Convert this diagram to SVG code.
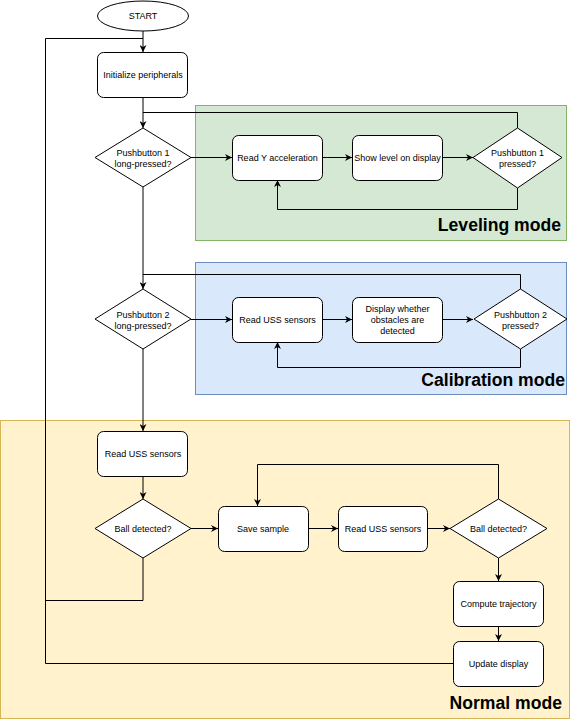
<svg xmlns="http://www.w3.org/2000/svg" width="570" height="720" viewBox="0 0 570 720">
<style>
.n{fill:#fff;stroke:#000;stroke-width:1}
.t{font-family:"Liberation Sans",Arial,sans-serif;font-size:9px;fill:#000;text-anchor:middle}
.h{font-family:"Liberation Sans",Arial,sans-serif;font-size:17.6px;font-weight:bold;fill:#000;text-anchor:end}
.c{fill:none;stroke:#000;stroke-width:1}
</style>
<defs>
<marker id="arr" viewBox="0 0 10 10" refX="10" refY="5" markerWidth="7" markerHeight="7" markerUnits="userSpaceOnUse" orient="auto">
<path d="M0,0 L10,5 L0,10 L3,5 z" fill="#000"/>
</marker>
</defs>
<rect width="570" height="720" fill="#fff"/>
<g id="groups">
<rect id="leveling" x="195.5" y="105.5" width="371" height="135" fill="#d5e8d4" stroke="#82b366"/>
<rect id="calibration" x="195.5" y="262.5" width="371" height="132" fill="#dae8fc" stroke="#6c8ebf"/>
<rect id="normal" x="0.5" y="420.5" width="569" height="298" fill="#fff2cc" stroke="#d6b656"/>
<text class="h" x="561" y="230.5">Leveling mode</text>
<text class="h" x="565" y="385.5">Calibration mode</text>
<text class="h" x="562" y="709">Normal mode</text>
</g>
<g id="connectors">
<path class="c" d="M143,31 V52" marker-end="url(#arr)"/>
<path class="c" d="M143,98 V128" marker-end="url(#arr)"/>
<path class="c" d="M191,157.5 H232" marker-end="url(#arr)"/>
<path class="c" d="M323,157.5 H352" marker-end="url(#arr)"/>
<path class="c" d="M442,157.5 H473" marker-end="url(#arr)"/>
<path class="c" d="M517.5,188 V209.5 H277.5 V180" marker-end="url(#arr)"/>
<path class="c" d="M517.5,128 V112.5 H143" />
<path class="c" d="M143,187 V289" marker-end="url(#arr)"/>
<path class="c" d="M191,319.5 H232" marker-end="url(#arr)"/>
<path class="c" d="M323,319.5 H352" marker-end="url(#arr)"/>
<path class="c" d="M442,319.5 H473" marker-end="url(#arr)"/>
<path class="c" d="M520.5,349 V367.5 H277.5 V342" marker-end="url(#arr)"/>
<path class="c" d="M520.5,289 V274.5 H143" />
<path class="c" d="M143,349 V431" marker-end="url(#arr)"/>
<path class="c" d="M143,476 V499" marker-end="url(#arr)"/>
<path class="c" d="M191,528.5 H218" marker-end="url(#arr)"/>
<path class="c" d="M308,528.5 H338" marker-end="url(#arr)"/>
<path class="c" d="M427,528.5 H450" marker-end="url(#arr)"/>
<path class="c" d="M498.5,499 V464.5 H257.5 V506" marker-end="url(#arr)"/>
<path class="c" d="M498.5,558 V581" marker-end="url(#arr)"/>
<path class="c" d="M498.5,626 V641" marker-end="url(#arr)"/>
<path class="c" d="M453,663.5 H45.5 V38.5 H143" />
<path class="c" d="M143,558 V600.5 H45.5" />
</g>
<g id="start">
<ellipse class="n" cx="143" cy="16" rx="45.5" ry="15"/>
<text class="t" x="143" y="19">START</text>
</g>
<g id="init">
<rect class="n" x="97.5" y="52.5" width="90" height="45" rx="6"/>
<text class="t" x="143" y="78">Initialize peripherals</text>
</g>
<g id="pb1long">
<path class="n" d="M143,128 L191,157.5 L143,187 L95,157.5 Z"/>
<text class="t" x="143" y="156">Pushbutton 1</text>
<text class="t" x="143" y="167">long-pressed?</text>
</g>
<g id="readY">
<rect class="n" x="232.5" y="135.5" width="90" height="45" rx="6"/>
<text class="t" x="277.5" y="160.5">Read Y acceleration</text>
</g>
<g id="showLevel">
<rect class="n" x="352.5" y="135.5" width="90" height="45" rx="6"/>
<text class="t" x="397.5" y="160.5">Show level on display</text>
</g>
<g id="pb1pressed">
<path class="n" d="M517.5,128 L562,157.5 L517.5,188 L473,157.5 Z"/>
<text class="t" x="517.5" y="156">Pushbutton 1</text>
<text class="t" x="517.5" y="167">pressed?</text>
</g>
<g id="pb2long">
<path class="n" d="M143,289 L191,319 L143,349 L95,319 Z"/>
<text class="t" x="143" y="317.5">Pushbutton 2</text>
<text class="t" x="143" y="328.5">long-pressed?</text>
</g>
<g id="readUSScal">
<rect class="n" x="232.5" y="297.5" width="90" height="45" rx="6"/>
<text class="t" x="277.5" y="322.5">Read USS sensors</text>
</g>
<g id="displayObstacles">
<rect class="n" x="352.5" y="297.5" width="90" height="45" rx="6"/>
<text class="t" x="397.5" y="312">Display whether</text>
<text class="t" x="397.5" y="323">obstacles are</text>
<text class="t" x="397.5" y="334">detected</text>
</g>
<g id="pb2pressed">
<path class="n" d="M520.5,289 L567,319 L520.5,349 L474,319 Z"/>
<text class="t" x="520.5" y="317.5">Pushbutton 2</text>
<text class="t" x="520.5" y="328.5">pressed?</text>
</g>
<g id="readUSS1">
<rect class="n" x="97.5" y="431.5" width="90" height="45" rx="6"/>
<text class="t" x="143" y="456.5">Read USS sensors</text>
</g>
<g id="ball1">
<path class="n" d="M143,499 L191,528.5 L143,558 L95,528.5 Z"/>
<text class="t" x="143" y="531.5">Ball detected?</text>
</g>
<g id="saveSample">
<rect class="n" x="218.5" y="506.5" width="90" height="45" rx="6"/>
<text class="t" x="263" y="531.5">Save sample</text>
</g>
<g id="readUSS2">
<rect class="n" x="338.5" y="506.5" width="89" height="45" rx="6"/>
<text class="t" x="383" y="531.5">Read USS sensors</text>
</g>
<g id="ball2">
<path class="n" d="M498.5,499 L547,528.5 L498.5,558 L450,528.5 Z"/>
<text class="t" x="498.5" y="531.5">Ball detected?</text>
</g>
<g id="compute">
<rect class="n" x="453.5" y="581.5" width="90" height="45" rx="6"/>
<text class="t" x="498.5" y="606.5">Compute trajectory</text>
</g>
<g id="update">
<rect class="n" x="453.5" y="641.5" width="90" height="45" rx="6"/>
<text class="t" x="498.5" y="666.5">Update display</text>
</g>
</svg>
